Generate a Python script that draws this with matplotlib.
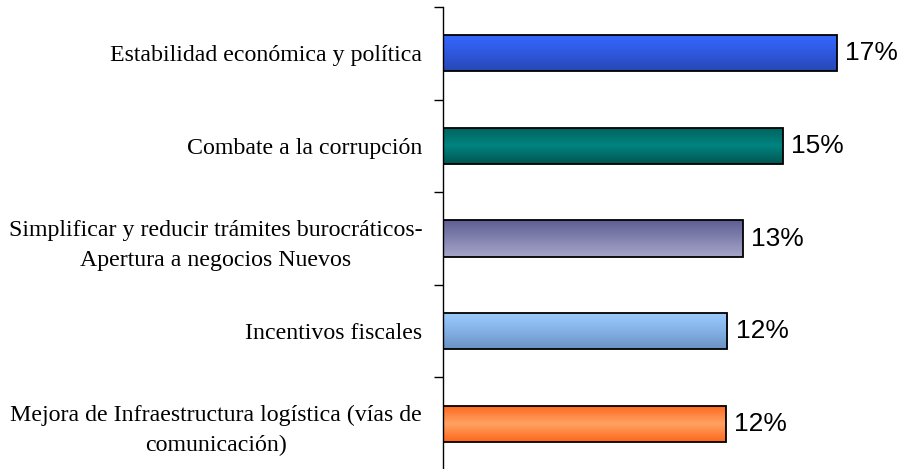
import matplotlib
matplotlib.use("Agg")
import matplotlib.pyplot as plt
import numpy as np
from matplotlib.colors import LinearSegmentedColormap

categories = [
    "Estabilidad económica y política",
    "Combate a la corrupción",
    "Simplificar y reducir trámites burocráticos-\nApertura a negocios Nuevos",
    "Incentivos fiscales",
    "Mejora de Infraestructura logística (vías de\ncomunicación)",
]
values = [17.0, 14.67, 12.94, 12.28, 12.21]
value_labels = ["17%", "15%", "13%", "12%", "12%"]

# gradient stops (top -> bottom) per bar
gradients = [
    ["#3568ff", "#2f58df", "#2847b4"],
    ["#00625e", "#008480", "#005550"],
    ["#5e5e94", "#8383b0", "#a6a6c9"],
    ["#9ccdff", "#85b1e6", "#6a92c2"],
    ["#ff661a", "#ffa263", "#ff661a"],
]

fig = plt.figure(figsize=(9, 4.69), dpi=100)
ax = fig.add_axes([443 / 900, 1 - 470 / 469, (883 - 443) / 900, (470 - 7) / 469])

ypos = np.arange(len(categories))
bars = ax.barh(ypos, values, height=0.39, color="none", edgecolor="black",
               linewidth=1.3, zorder=3)

for patch, stops in zip(bars.patches, gradients):
    x0, y0 = patch.get_x(), patch.get_y()
    w, h = patch.get_width(), patch.get_height()
    cmap = LinearSegmentedColormap.from_list("g", stops)
    grad = np.linspace(0, 1, 256).reshape(-1, 1)
    im = ax.imshow(grad, cmap=cmap, aspect="auto",
                   extent=[x0, x0 + w, y0 + h, y0], origin="upper", zorder=2,
                   interpolation="bilinear")
    im.set_clip_path(patch)

for v, lab, y in zip(values, value_labels, ypos):
    ax.annotate(lab, xy=(v, y), xytext=(6, 0), textcoords="offset points",
                ha="left", va="center", fontsize=19,
                family=["Liberation Sans", "DejaVu Sans"])

ax.set_xlim(0, 19)
ax.set_ylim(len(categories) - 0.5, -0.5)

ax.set_yticks(ypos)
ax.set_yticklabels(categories, family=["Liberation Serif", "DejaVu Serif"],
                   fontsize=17.2, multialignment="center", linespacing=1.55)
ax.tick_params(axis="y", which="major", length=0, pad=15)
ax.set_yticks(np.arange(-0.5, len(categories) + 0.5, 1), minor=True)
ax.tick_params(axis="y", which="minor", length=6.5, width=1, direction="out")
ax.set_xticks([])

for s in ["top", "right", "bottom"]:
    ax.spines[s].set_visible(False)
ax.spines["left"].set_linewidth(1)

fig.savefig("out.png", dpi=100)
